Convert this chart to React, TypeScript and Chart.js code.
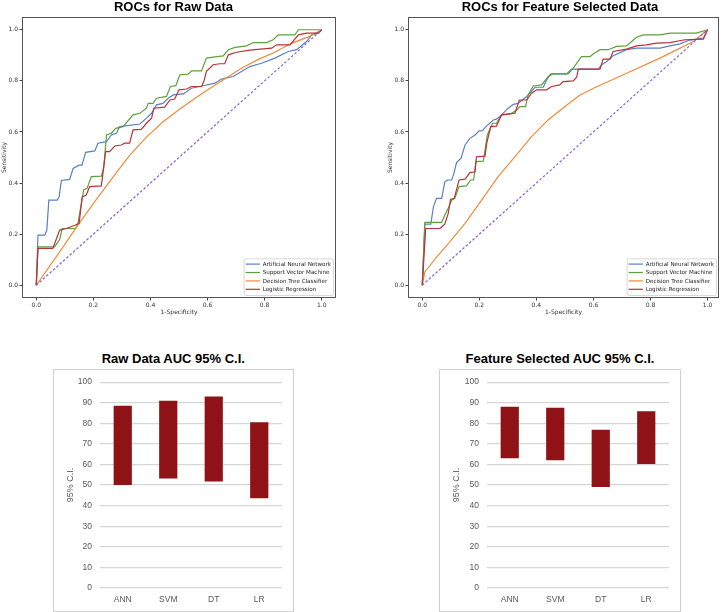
import React, { useEffect, useRef } from "react";
import { Chart, registerables } from "chart.js";

Chart.register(...registerables);

type P = [number, number];

// ---------- ROC data ----------
const rocTicks = [0, 0.2, 0.4, 0.6, 0.8, 1.0];
const rocLabels = [
  "Artificial Neural Network",
  "Support Vector Machine",
  "Decision Tree Classifier",
  "Logistic Regression",
];
const diagonal: P[] = [[0, 0], [1, 1]];

const rawANN: P[] = [
  [0, 0], [0.006, 0.196], [0.03, 0.196], [0.037, 0.216], [0.044, 0.333], [0.073, 0.333],
  [0.08, 0.345], [0.088, 0.41], [0.117, 0.414], [0.129, 0.457], [0.15, 0.47], [0.16, 0.47],
  [0.173, 0.52], [0.205, 0.526], [0.216, 0.556], [0.246, 0.562], [0.263, 0.588], [0.281, 0.595],
  [0.292, 0.621], [0.363, 0.631], [0.386, 0.654], [0.404, 0.673], [0.421, 0.706], [0.444, 0.712],
  [0.462, 0.732], [0.48, 0.745], [0.515, 0.749], [0.543, 0.771], [0.573, 0.778], [0.626, 0.791],
  [0.649, 0.807], [0.69, 0.817], [0.748, 0.856], [0.789, 0.869], [0.836, 0.889], [0.883, 0.915],
  [0.912, 0.922], [0.947, 0.954], [0.965, 0.98], [0.988, 0.987], [1, 1],
];
const rawSVM: P[] = [
  [0, 0], [0.006, 0.15], [0.064, 0.15], [0.082, 0.179], [0.091, 0.222], [0.138, 0.222],
  [0.146, 0.242], [0.166, 0.373], [0.178, 0.379], [0.193, 0.425], [0.228, 0.427], [0.236, 0.458],
  [0.246, 0.588], [0.263, 0.595], [0.278, 0.614], [0.304, 0.621], [0.339, 0.667], [0.363, 0.673],
  [0.386, 0.693], [0.392, 0.712], [0.409, 0.712], [0.421, 0.732], [0.456, 0.739], [0.47, 0.778],
  [0.489, 0.781], [0.503, 0.824], [0.532, 0.826], [0.544, 0.839], [0.579, 0.839], [0.596, 0.889],
  [0.632, 0.895], [0.655, 0.898], [0.673, 0.922], [0.696, 0.931], [0.737, 0.937], [0.76, 0.95],
  [0.807, 0.95], [0.83, 0.961], [0.848, 0.98], [0.906, 0.98], [0.918, 1.0], [1, 1],
];
const rawDT: P[] = [
  [0, 0], [0.05, 0.08], [0.1, 0.16], [0.152, 0.245], [0.21, 0.335], [0.27, 0.425],
  [0.327, 0.508], [0.386, 0.58], [0.444, 0.64], [0.503, 0.69], [0.56, 0.735], [0.61, 0.772],
  [0.66, 0.807], [0.72, 0.85], [0.78, 0.885], [0.836, 0.912], [0.89, 0.945], [0.953, 0.972], [1, 1],
];
const rawLR: P[] = [
  [0, 0], [0.006, 0.144], [0.058, 0.144], [0.082, 0.216], [0.105, 0.222], [0.135, 0.235],
  [0.15, 0.242], [0.161, 0.346], [0.175, 0.353], [0.187, 0.386], [0.228, 0.389], [0.243, 0.523],
  [0.257, 0.523], [0.275, 0.545], [0.298, 0.549], [0.31, 0.556], [0.327, 0.556], [0.339, 0.608],
  [0.368, 0.61], [0.386, 0.634], [0.404, 0.654], [0.412, 0.693], [0.45, 0.697], [0.468, 0.725],
  [0.485, 0.729], [0.5, 0.765], [0.526, 0.768], [0.544, 0.778], [0.579, 0.778], [0.587, 0.797],
  [0.596, 0.837], [0.62, 0.863], [0.643, 0.867], [0.66, 0.867], [0.673, 0.902], [0.702, 0.912],
  [0.748, 0.92], [0.795, 0.925], [0.825, 0.928], [0.842, 0.941], [0.889, 0.941], [0.918, 0.98],
  [0.947, 0.987], [0.988, 0.987], [1, 1],
];

const fsANN: P[] = [
  [0, 0], [0.009, 0.239], [0.03, 0.239], [0.039, 0.307], [0.05, 0.34], [0.068, 0.34],
  [0.079, 0.405], [0.089, 0.412], [0.103, 0.412], [0.111, 0.438], [0.12, 0.48], [0.136, 0.497],
  [0.15, 0.549], [0.167, 0.575], [0.185, 0.588], [0.199, 0.604], [0.211, 0.605], [0.223, 0.621],
  [0.249, 0.647], [0.26, 0.65], [0.278, 0.667], [0.301, 0.693], [0.319, 0.708], [0.336, 0.712],
  [0.354, 0.728], [0.366, 0.739], [0.377, 0.752], [0.395, 0.775], [0.424, 0.775], [0.436, 0.804],
  [0.45, 0.827], [0.506, 0.827], [0.523, 0.846], [0.617, 0.846], [0.629, 0.863], [0.646, 0.876],
  [0.669, 0.898], [0.716, 0.922], [0.751, 0.928], [0.833, 0.928], [0.868, 0.937], [0.903, 0.945],
  [0.932, 0.958], [0.985, 0.967], [1, 1],
];
const fsSVM: P[] = [
  [0, 0], [0.009, 0.246], [0.068, 0.246], [0.079, 0.275], [0.091, 0.301], [0.103, 0.333],
  [0.114, 0.34], [0.129, 0.386], [0.155, 0.389], [0.169, 0.412], [0.18, 0.412], [0.188, 0.484],
  [0.214, 0.486], [0.228, 0.588], [0.246, 0.634], [0.26, 0.634], [0.278, 0.667], [0.313, 0.673],
  [0.331, 0.686], [0.342, 0.699], [0.362, 0.699], [0.371, 0.745], [0.389, 0.78], [0.418, 0.784],
  [0.442, 0.817], [0.459, 0.827], [0.512, 0.827], [0.529, 0.85], [0.558, 0.895], [0.588, 0.895],
  [0.599, 0.905], [0.623, 0.922], [0.652, 0.922], [0.681, 0.935], [0.716, 0.937], [0.734, 0.954],
  [0.751, 0.971], [0.775, 0.98], [0.833, 0.98], [0.868, 0.987], [0.961, 0.987], [1, 1],
];
const fsDT: P[] = [
  [0, 0], [0.009, 0.052], [0.05, 0.11], [0.092, 0.164], [0.15, 0.242], [0.208, 0.333],
  [0.266, 0.425], [0.325, 0.503], [0.383, 0.582], [0.441, 0.647], [0.5, 0.7], [0.553, 0.745],
  [0.6, 0.771], [0.716, 0.83], [0.833, 0.889], [0.95, 0.954], [1, 1],
];
const fsLR: P[] = [
  [0, 0], [0.012, 0.222], [0.062, 0.222], [0.079, 0.239], [0.091, 0.281], [0.099, 0.336],
  [0.112, 0.34], [0.129, 0.412], [0.15, 0.415], [0.167, 0.441], [0.185, 0.444], [0.19, 0.503],
  [0.22, 0.505], [0.226, 0.556], [0.24, 0.621], [0.26, 0.623], [0.278, 0.667], [0.295, 0.669],
  [0.325, 0.673], [0.34, 0.725], [0.366, 0.725], [0.383, 0.752], [0.401, 0.765], [0.436, 0.765],
  [0.453, 0.778], [0.482, 0.784], [0.494, 0.797], [0.529, 0.8], [0.541, 0.814], [0.547, 0.846],
  [0.623, 0.846], [0.634, 0.885], [0.658, 0.885], [0.669, 0.915], [0.716, 0.924], [0.751, 0.937],
  [0.786, 0.941], [0.821, 0.948], [0.868, 0.95], [0.92, 0.961], [0.985, 0.963], [1, 1],
];

// ---------- CI data ----------
const ciCategories = ["ANN", "SVM", "DT", "LR"];
const rawLow = [50.0, 53.2, 51.7, 43.6];
const rawHigh = [88.5, 91.0, 93.0, 80.5];
const fsLow = [63.0, 62.1, 49.1, 60.2];
const fsHigh = [88.0, 87.5, 76.8, 85.9];

// ---------- styles ----------
const lineColors = ["#5a80c4", "#5ba23e", "#ef8b3b", "#bb3236"];
const diagColor = "#8a63d2";
const barColor = "#8e1216";
const tickFont = { family: "DejaVu Sans", size: 6 };
const xlFont = { family: "Liberation Sans", size: 8.5 };
const xlTitleFont = { family: "Liberation Sans", size: 9 };

const framePlugin = {
  id: "frame",
  afterDatasetsDraw(chart: any) {
    const { ctx, chartArea: a } = chart;
    ctx.save();
    ctx.strokeStyle = "#555";
    ctx.lineWidth = 1;
    ctx.strokeRect(Math.round(a.left) + 0.5, Math.round(a.top) + 0.5, Math.round(a.right - a.left) - 1, Math.round(a.bottom - a.top) - 1);
    ctx.restore();
  },
};

const rocLegendPlugin = {
  id: "rocLegend",
  afterDraw(chart: any) {
    const { ctx, chartArea: a } = chart;
    const items = chart.data.datasets.filter((d: any) => d.inLegend);
    ctx.save();
    ctx.font = `5.6px "DejaVu Sans"`;
    const maxW = Math.max(...items.map((d: any) => ctx.measureText(d.label).width));
    const rowH = 8.4;
    const w = maxW + 21;
    const h = rowH * items.length + 3.1;
    const right = a.right - 3;
    const bottom = a.bottom - 3;
    const left = right - w;
    const top = bottom - h;
    ctx.beginPath();
    ctx.roundRect(left + 0.5, top + 0.5, w, h, 2);
    ctx.fillStyle = "rgba(255,255,255,0.85)";
    ctx.fill();
    ctx.strokeStyle = "#cfcfcf";
    ctx.lineWidth = 0.8;
    ctx.stroke();
    items.forEach((d: any, i: number) => {
      const cy = top + 5.8 + i * rowH;
      ctx.strokeStyle = d.borderColor;
      ctx.lineWidth = 1.2;
      ctx.beginPath();
      ctx.moveTo(left + 2, cy);
      ctx.lineTo(left + 16.3, cy);
      ctx.stroke();
      ctx.fillStyle = "#222";
      ctx.textBaseline = "middle";
      ctx.textAlign = "left";
      ctx.fillText(d.label, left + 19, cy + 0.3);
    });
    ctx.restore();
  },
};

function RocChart(props: { series: P[][]; width: number; height: number; yWidth: number; padRight: number; xMax: number; yTitlePad: number }) {
  const ref = useRef<HTMLCanvasElement>(null);
  useEffect(() => {
    const canvas = ref.current!;
    const datasets: any[] = props.series.map((s, i) => ({
      label: rocLabels[i],
      inLegend: true,
      data: s.map(([x, y]) => ({ x, y })),
      showLine: true,
      borderColor: lineColors[i],
      backgroundColor: lineColors[i],
      borderWidth: 1.2,
      pointRadius: 0,
      tension: 0,
      order: 4 - i,
    }));
    datasets.push({
      label: "chance",
      inLegend: false,
      data: diagonal.map(([x, y]) => ({ x, y })),
      showLine: true,
      borderColor: diagColor,
      borderWidth: 1.2,
      borderDash: [2.5, 2],
      pointRadius: 0,
      order: 0,
    });
    const chart = new Chart(canvas, {
      type: "scatter",
      data: { datasets },
      options: {
        responsive: false,
        animation: false,
        layout: { padding: { top: 17, right: props.padRight, left: 0, bottom: 0 } },
        plugins: { legend: { display: false }, tooltip: { enabled: false }, title: { display: false } },
        scales: {
          x: {
            type: "linear",
            min: -0.05,
            max: props.xMax,
            afterBuildTicks: (s: any) => { s.ticks = rocTicks.map((v) => ({ value: v })); },
            afterFit: (s: any) => { s.height = props.height - 298; },
            ticks: { callback: (v: any) => Number(v).toFixed(1), font: tickFont, color: "#333", padding: 1.5, maxRotation: 0, autoSkip: false },
            grid: { drawOnChartArea: false, drawTicks: true, tickLength: 2.5, color: "#444" },
            border: { display: false },
            title: { display: true, text: "1-Specificity", font: tickFont, color: "#333", padding: { top: 0, bottom: 3.5 } },
          },
          y: {
            type: "linear",
            min: -0.05,
            max: 1.05,
            afterBuildTicks: (s: any) => { s.ticks = rocTicks.map((v) => ({ value: v })); },
            afterFit: (s: any) => { s.width = props.yWidth; },
            ticks: { callback: (v: any) => Number(v).toFixed(1), font: tickFont, color: "#333", padding: 1.5, autoSkip: false },
            grid: { drawOnChartArea: false, drawTicks: true, tickLength: 2.5, color: "#444" },
            border: { display: false },
            title: { display: true, text: "Sensitivity", font: tickFont, color: "#333", padding: { top: props.yTitlePad, bottom: 0 } },
          },
        },
      } as any,
      plugins: [framePlugin, rocLegendPlugin],
    });
    return () => chart.destroy();
  }, []);
  return <canvas ref={ref} width={props.width} height={props.height} style={{ width: props.width, height: props.height, display: "block" }} />;
}

function CiChart(props: { low: number[]; high: number[]; width: number; height: number; yWidth: number }) {
  const ref = useRef<HTMLCanvasElement>(null);
  useEffect(() => {
    const canvas = ref.current!;
    const chart = new Chart(canvas, {
      type: "bar",
      data: {
        labels: ciCategories,
        datasets: [{
          data: props.low.map((l, i) => [l, props.high[i]]),
          backgroundColor: barColor,
          borderWidth: 0,
          barPercentage: 0.4,
          categoryPercentage: 1,
        }],
      },
      options: {
        responsive: false,
        animation: false,
        layout: { padding: { top: 11, right: 12, left: 0, bottom: 0 } },
        plugins: { legend: { display: false }, tooltip: { enabled: false } },
        scales: {
          x: {
            grid: { display: false, drawTicks: false },
            border: { display: false },
            ticks: { font: xlFont, color: "#595959", padding: 7 },
            afterFit: (s: any) => { s.height = 24; },
          },
          y: {
            min: 0,
            max: 100,
            ticks: { stepSize: 10, font: xlFont, color: "#595959", padding: 8 },
            grid: { color: "#d6d6d6", lineWidth: 1.2, drawTicks: false },
            border: { display: false },
            title: { display: true, text: "95% C.I.", font: xlTitleFont, color: "#595959", padding: { top: 12.5, bottom: 0 } },
            afterFit: (s: any) => { s.width = props.yWidth; },
          },
        },
      } as any,
    });
    return () => chart.destroy();
  }, []);
  return <canvas ref={ref} width={props.width} height={props.height} style={{ width: props.width, height: props.height, display: "block" }} />;
}

const titleStyle = (cx: number, top: number): React.CSSProperties => ({
  position: "absolute",
  left: cx - 150,
  top,
  width: 300,
  textAlign: "center",
  font: "bold 13px 'Liberation Sans', Arial, sans-serif",
  lineHeight: "13px",
  color: "#000",
  whiteSpace: "nowrap",
});

export default function App() {
  return (
    <div style={{ position: "fixed", left: 0, top: 0, width: 723, height: 612, background: "#fff", overflow: "hidden" }}>
      <div style={{ position: "absolute", left: 0, top: 0 }}>
        <RocChart series={[rawANN, rawSVM, rawDT, rawLR]} width={345} height={320} yWidth={22} padRight={9} xMax={1.05} yTitlePad={0.5} />
      </div>
      <div style={{ position: "absolute", left: 380, top: 0 }}>
        <RocChart series={[fsANN, fsSVM, fsDT, fsLR]} width={343} height={320} yWidth={28} padRight={4} xMax={1.04} yTitlePad={6.4} />
      </div>
      <div style={titleStyle(173.5, 0)}>ROCs for Raw Data</div>
      <div style={titleStyle(560, 0)}>ROCs for Feature Selected Data</div>

      <div style={{ position: "absolute", left: 53, top: 369 }}>
        <CiChart low={rawLow} high={rawHigh} width={241} height={243} yWidth={47} />
      </div>
      <div style={{ position: "absolute", left: 53, top: 369, width: 241, height: 243, boxSizing: "border-box", border: "1px solid #d0d0d0", pointerEvents: "none" }} />
      <div style={{ position: "absolute", left: 439, top: 369 }}>
        <CiChart low={fsLow} high={fsHigh} width={242} height={243} yWidth={48} />
      </div>
      <div style={{ position: "absolute", left: 439, top: 369, width: 242, height: 243, boxSizing: "border-box", border: "1px solid #d0d0d0", pointerEvents: "none" }} />
      <div style={titleStyle(173.3, 352)}>Raw Data AUC 95% C.I.</div>
      <div style={titleStyle(560, 352)}>Feature Selected AUC 95% C.I.</div>
    </div>
  );
}
